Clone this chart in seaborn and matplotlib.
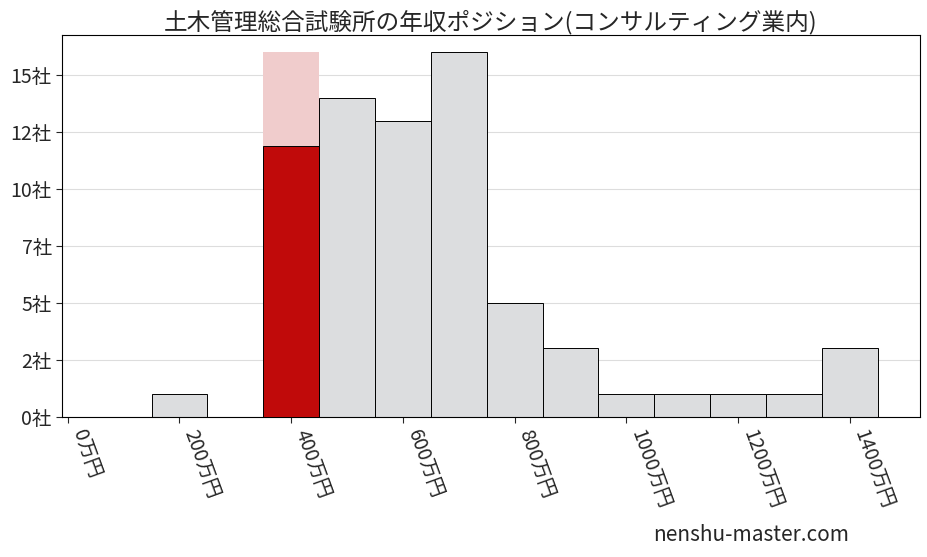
import numpy as np
import pandas as pd
import matplotlib
matplotlib.use('Agg')
import matplotlib.pyplot as plt
import seaborn as sns
from matplotlib.ticker import FuncFormatter

# data
bin_centers = [200, 400, 500, 600, 700, 800, 900, 1000, 1100, 1200, 1300, 1400]
counts = [1, 16, 14, 13, 16, 5, 3, 1, 1, 1, 1, 3]
highlight_center = 400
highlight_value = 11.9
xticks = [0, 200, 400, 600, 800, 1000, 1200, 1400]

sns.set_style('white')
plt.rcParams['font.family'] = ['Noto Sans CJK JP', 'DejaVu Sans']

df = pd.DataFrame({'center': bin_centers, 'count': counts})

fig, ax = plt.subplots(figsize=(9.28, 5.57), dpi=100)
for c, n in zip(df['center'], df['count']):
    col = '#f0cccc' if c == highlight_center else '#dcdddf'
    ec = 'none' if c == highlight_center else 'black'
    ax.bar(c, n, width=100, color=col, edgecolor=ec, linewidth=0.7, zorder=2)
ax.bar(highlight_center, highlight_value, width=100, color='#c00a0a',
       edgecolor='black', linewidth=0.7, zorder=3)

ax.set_xlim(-10, 1525)
ax.set_ylim(0, 16.75)
ax.set_yticks([0, 2.5, 5, 7.5, 10, 12.5, 15])
ax.yaxis.set_major_formatter(FuncFormatter(lambda v, p: f'{int(v)}社'))
ax.set_xticks(xticks)
ax.set_xticklabels([f'{x}万円' for x in xticks], rotation=-70, ha='left', fontsize=14)
ax.tick_params(axis='y', labelsize=14)
ax.tick_params(axis='both', direction='out', length=4, left=True, bottom=True)
ax.grid(axis='y', color='#dddddd', linewidth=0.8, zorder=0)
for s in ax.spines.values():
    s.set_color('black')
    s.set_linewidth(0.8)
ax.set_title('土木管理総合試験所の年収ポジション(コンサルティング業内)', fontsize=17, pad=4)

fig.subplots_adjust(left=0.067, right=0.991, top=0.937, bottom=0.252)
fig.text(0.915, 0.02, 'nenshu-master.com', ha='right', va='bottom', fontsize=15)
fig.savefig('out.png', dpi=100)
